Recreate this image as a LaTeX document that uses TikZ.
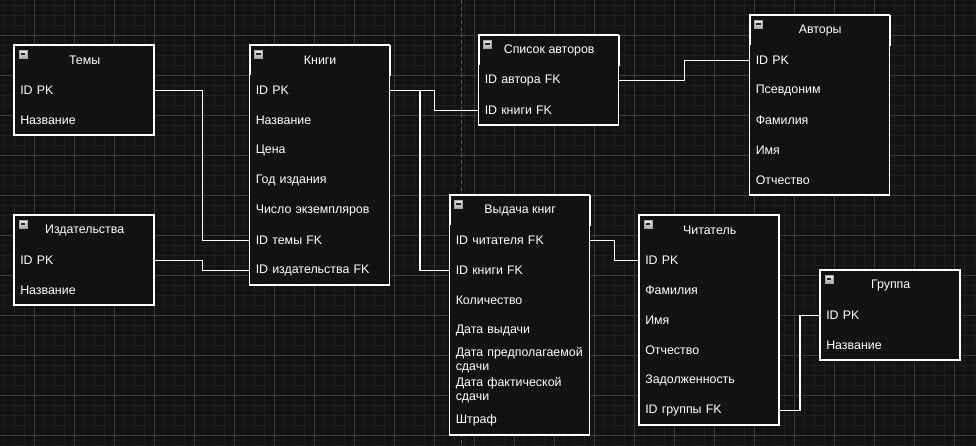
\documentclass[tikz,border=0pt]{standalone}
\usepackage{fontspec}
\setmainfont{Liberation Sans}
\usetikzlibrary{calc}
\definecolor{canvas}{RGB}{18,18,18}
\definecolor{minorgrid}{RGB}{30,30,30}
\definecolor{majorgrid}{RGB}{58,58,58}
\definecolor{pageline}{RGB}{90,90,90}
\newcommand{\tblfont}{\fontsize{9.3}{10}\selectfont}
\tikzset{
  tblhead/.style={draw=white, line width=1pt, fill=canvas, text=white, inner sep=0pt,
    minimum width=105pt, minimum height=22.5pt, anchor=north west, font=\tblfont},
  tblrow/.style={fill=canvas, text=white, text width=96pt, align=left, inner xsep=4.5pt,
    inner ysep=0pt, minimum height=22.5pt, anchor=north west, font=\tblfont},
  tblbox/.style={draw=white, line width=1pt},
  minusbtn/.style={draw=black!35, line width=0.5pt, top color=white!92!black, bottom color=white!68!black,
    minimum size=6pt, inner sep=0pt, path picture={\draw[black!85, line width=1pt]
      ([xshift=-1.8pt]path picture bounding box.center) -- ([xshift=1.8pt]path picture bounding box.center);}},
  link/.style={draw=white, line width=1pt},
}

\begin{document}
\begin{tikzpicture}[x=0.75pt, y=-0.75pt]
    \useasboundingbox (0,0) rectangle (976,446);
    % background grid
    \fill[canvas] (0,0) rectangle (976,446);
    \foreach \x in {4,14,...,974} \draw[minorgrid, line width=0.6pt] (\x,0) -- (\x,446);
    \foreach \y in {5,15,...,445} \draw[minorgrid, line width=0.6pt] (0,\y) -- (976,\y);
    \foreach \x in {34,74,...,954} \draw[majorgrid, line width=0.6pt] (\x,0) -- (\x,446);
    \foreach \y in {35,75,...,435} \draw[majorgrid, line width=0.6pt] (0,\y) -- (976,\y);
    \draw[pageline, line width=0.75pt, dash pattern=on 3pt off 2pt] (461.5,0) -- (461.5,446);

    % Темы
    \begin{scope}[shift={(14,45)}]
      \node[tblhead] (themes) at (0,0) {Темы};
      \foreach \t [count=\i] in {ID PK, Название}
        \node[tblrow] (themes-\i) at (0,{30*\i}) {\t};
      \draw[tblbox] (0,0) rectangle (140,90);
      \node[minusbtn] (themes-btn) at (9,9) {};
    \end{scope}

    % Издательства
    \begin{scope}[shift={(14,215)}]
      \node[tblhead] (publ) at (0,0) {Издательства};
      \foreach \t [count=\i] in {ID PK, Название}
        \node[tblrow] (publ-\i) at (0,{30*\i}) {\t};
      \draw[tblbox] (0,0) rectangle (140,90);
      \node[minusbtn] (publ-btn) at (9,9) {};
    \end{scope}

    % Книги
    \begin{scope}[shift={(249.5,45)}]
      \node[tblhead] (books) at (0,0) {Книги};
      \foreach \t [count=\i] in {ID PK, Название, Цена, Год издания, Число экземпляров,
          ID темы FK, ID издательства FK}
        \node[tblrow] (books-\i) at (0,{30*\i}) {\t};
      \draw[tblbox] (0,0) rectangle (140,240);
      \node[minusbtn] (books-btn) at (9,9) {};
    \end{scope}

    % Список авторов
    \begin{scope}[shift={(478.5,35)}]
      \node[tblhead] (authlist) at (0,0) {Список авторов};
      \foreach \t [count=\i] in {ID автора FK, ID книги FK}
        \node[tblrow] (authlist-\i) at (0,{30*\i}) {\t};
      \draw[tblbox] (0,0) rectangle (140,90);
      \node[minusbtn] (authlist-btn) at (9,9) {};
    \end{scope}

    % Авторы
    \begin{scope}[shift={(749.5,15)}]
      \node[tblhead] (authors) at (0,0) {Авторы};
      \foreach \t [count=\i] in {ID PK, Псевдоним, Фамилия, Имя, Отчество}
        \node[tblrow] (authors-\i) at (0,{30*\i}) {\t};
      \draw[tblbox] (0,0) rectangle (140,180);
      \node[minusbtn] (authors-btn) at (9,9) {};
    \end{scope}

    % Выдача книг
    \begin{scope}[shift={(449.5,195)}]
      \node[tblhead] (issue) at (0,0) {Выдача книг};
      \foreach \t [count=\i] in {ID читателя FK, ID книги FK, Количество, Дата выдачи,
          {Дата предполагаемой\\сдачи}, {Дата фактической\\сдачи}, Штраф}
        \node[tblrow] (issue-\i) at (0,{30*\i}) {\t};
      \draw[tblbox] (0,0) rectangle (140,240);
      \node[minusbtn] (issue-btn) at (9,9) {};
    \end{scope}

    % Читатель
    \begin{scope}[shift={(639,215)}]
      \node[tblhead] (reader) at (0,0) {Читатель};
      \foreach \t [count=\i] in {ID PK, Фамилия, Имя, Отчество, Задолженность, ID группы FK}
        \node[tblrow] (reader-\i) at (0,{30*\i}) {\t};
      \draw[tblbox] (0,0) rectangle (140,210);
      \node[minusbtn] (reader-btn) at (9,9) {};
    \end{scope}

    % Группа
    \begin{scope}[shift={(820,270)}]
      \node[tblhead] (group) at (0,0) {Группа};
      \foreach \t [count=\i] in {ID PK, Название}
        \node[tblrow] (group-\i) at (0,{30*\i}) {\t};
      \draw[tblbox] (0,0) rectangle (140,90);
      \node[minusbtn] (group-btn) at (9,9) {};
    \end{scope}

    % links
    \draw[link] (themes-1.east) -- ++(48,0) |- (books-6.west);
    \draw[link] (publ-1.east) -- ++(48,0) |- (books-7.west);
    \draw[link] (books-1.east) -- ++(44.5,0) |- (authlist-2.west);
    \draw[link] (books-1.east) -- ++(30,0) |- (issue-2.west);
    \draw[link] (authlist-1.east) -- ++(65.5,0) |- (authors-1.west);
    \draw[link] (issue-1.east) -- ++(24.5,0) |- (reader-1.west);
    \draw[link] (reader-6.east) -- ++(20.5,0) |- (group-1.west);
\end{tikzpicture}
\end{document}
